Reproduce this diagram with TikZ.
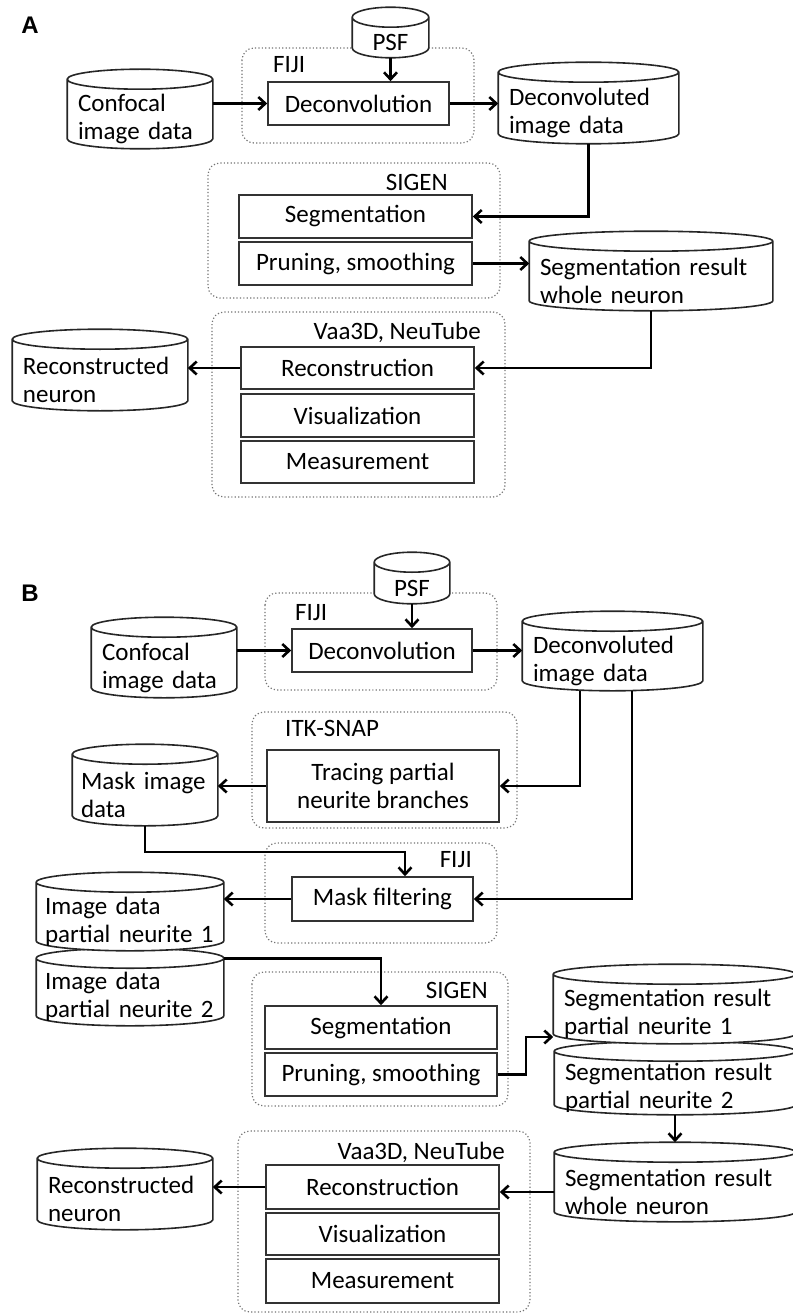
\documentclass[tikz,border=0pt]{standalone}
\usepackage{fontspec}
\setmainfont{Carlito}
\newfontfamily\panelfont{Liberation Sans}
\usetikzlibrary{arrows.meta,calc}

\tikzset{
  proc/.style={rectangle, draw=black!80, line width=1.6pt, fill=white,
    minimum width=233pt, minimum height=43pt, inner sep=0pt, align=center},
  store/.style={rectangle, inner xsep=10pt, inner ysep=0pt, align=left,
    execute at begin node={\hyphenpenalty=10000\exhyphenpenalty=10000},
    append after command={
      let \p1=(\tikzlastnode.north west), \p2=(\tikzlastnode.south east),
          \n1={(\x2-\x1)/2} in
      (\x1,\y1+10pt) -- (\x1,\y2+10pt)
        arc[start angle=180, end angle=360, x radius={\n1*1pt}, y radius=10pt]
        -- (\x2,\y1+10pt)
        arc[start angle=0, end angle=180, x radius={\n1*1pt}, y radius=10pt] -- cycle
      (\x1,\y1+10pt)
        arc[start angle=180, end angle=360, x radius={\n1*1pt}, y radius=10pt]}},
  cylline/.style={draw=black!85, line width=1.6pt, fill=white},
  grp/.style={draw=black!55, line width=1.2pt, dash pattern=on 1.2pt off 2.2pt,
    rounded corners=12pt},
  grplbl/.style={inner sep=0pt},
  line/.style={draw, line width=2.6pt, -{Straight Barb[length=7pt,width=13pt]}},
  panel/.style={font=\panelfont\bfseries\fontsize{24}{28}\selectfont, inner sep=0pt}
}

\begin{document}
\begin{tikzpicture}[x=1pt, y=-1pt, font=\fontsize{25}{28}\selectfont]
  \useasboundingbox (0,0) rectangle (792,1316);

  % A
  \node[panel] (labA) at (30,25) {A};
  \draw[grp] (242,48) rectangle (474,143);
  \draw[grp] (208,163) rectangle (500,298);
  \draw[grp] (212,312) rectangle (505,497);
  \node[grplbl, anchor=west] (fijiA) at (273,65) {FIJI};
  \node[grplbl, anchor=east] (sigenA) at (448,182) {SIGEN};
  \node[grplbl, anchor=east] (vaaA) at (481,332) {Vaa3D, NeuTube};

  \path[cylline] node[store, text width=124pt, minimum height=58pt] (confA) at (140,119) {Confocal\\image data};
  \path[cylline] node[store, align=center, text width=55pt, minimum height=29pt] (psfA) at (390.5,42.5) {PSF};
  \path[cylline] node[store, text width=159pt, minimum height=60pt] (deconvdA) at (588.5,113) {Deconvoluted\\image data};
  \path[cylline] node[store, text width=222pt, minimum height=58pt] (segwA) at (651,281) {Segmentation result\\whole neuron};
  \path[cylline] node[store, text width=154pt, minimum height=60pt] (reconA) at (100,380) {Reconstructed\\neuron};

  \node[proc, minimum width=181pt] (deconvA) at (358.5,103.5) {Deconvolution};
  \node[proc] (segA) at (355.5,216.5) {Segmentation};
  \node[proc] (pruneA) at (355.5,263.5) {Pruning, smoothing};
  \node[proc, minimum height=42pt] (reconsA) at (357.5,368) {Reconstruction};
  \node[proc] (visA) at (357.5,415.5) {Visualization};
  \node[proc, minimum height=42pt] (measA) at (357.5,462) {Measurement};

  \path[line] (confA.east |- deconvA.west) -- (deconvA.west);
  \path[line] (psfA.south) -- (psfA.south |- deconvA.north);
  \path[line] (deconvA.east) -- (deconvA.east -| deconvdA.west);
  \path[line] (deconvdA.south) |- (segA.east);
  \path[line] (pruneA.east) -- (pruneA.east -| segwA.west);
  \path[line] (segwA.south) |- (reconsA.east);
  \path[line] (reconsA.west) -- (reconsA.west -| reconA.east);

  % B
  \node[panel] (labB) at (30,593) {B};
  \draw[grp] (265,593) rectangle (497,690);
  \draw[grp] (252,712) rectangle (517,828);
  \draw[grp] (265,843) rectangle (497,943);
  \draw[grp] (252,972) rectangle (508,1106);
  \draw[grp] (238,1131) rectangle (530,1312);
  \node[grplbl, anchor=west] (fijiB) at (295,613) {FIJI};
  \node[grplbl, anchor=west] (itkB) at (285,728) {ITK-SNAP};
  \node[grplbl, anchor=east] (fijiBB) at (472,860) {FIJI};
  \node[grplbl, anchor=east] (sigenB) at (488,990) {SIGEN};
  \node[grplbl, anchor=east] (vaaB) at (505,1152) {Vaa3D, NeuTube};

  \path[cylline] node[store, text width=124pt, minimum height=59pt] (confB) at (164,667.5) {Confocal\\image data};
  \path[cylline] node[store, align=center, text width=54pt, minimum height=30pt] (psfB) at (412,588) {PSF};
  \path[cylline] node[store, text width=159pt, minimum height=58pt] (deconvdB) at (612.5,661) {Deconvoluted\\image data};
  \path[cylline] node[store, inner xsep=8pt, text width=128pt, minimum height=60pt] (maskB) at (145,795) {\mbox{Mask image}\\data};
  \path[cylline] node[store, inner xsep=8pt, text width=170pt, minimum height=56pt] (part2B) at (130,997) {Image data\\partial neurite 2};
  \path[cylline] node[store, inner xsep=8pt, text width=170pt, minimum height=57pt] (part1B) at (130,921.5) {Image data\\partial neurite 1};
  \path[cylline] node[store, text width=220pt, minimum height=52pt] (segp2B) at (675,1088) {Segmentation result\\partial neurite 2};
  \path[cylline] node[store, text width=221pt, minimum height=58pt] (segp1B) at (674.5,1014) {Segmentation result\\partial neurite 1};
  \path[cylline] node[store, text width=220pt, minimum height=58pt] (segwB) at (675,1192) {Segmentation result\\whole neuron};
  \path[cylline] node[store, text width=154pt, minimum height=60pt] (reconB) at (125,1199) {Reconstructed\\neuron};

  \node[proc, minimum width=180pt] (deconvB) at (382,650.5) {Deconvolution};
  \node[proc, minimum width=232pt, minimum height=72pt] (traceB) at (383,786) {Tracing partial\\neurite branches};
  \node[proc, minimum width=181pt, minimum height=44pt] (maskfB) at (382.5,899) {Mask filtering};
  \node[proc, minimum width=232pt] (segB) at (381,1027.5) {Segmentation};
  \node[proc, minimum width=232pt] (pruneB) at (381,1074.5) {Pruning, smoothing};
  \node[proc, minimum height=44pt] (reconsB) at (382.5,1187) {Reconstruction};
  \node[proc, minimum height=42pt] (visB) at (382.5,1234) {Visualization};
  \node[proc, minimum height=44pt] (measB) at (382.5,1281) {Measurement};

  \coordinate (maskturn) at (405,852);

  \path[line] (confB.east |- deconvB.west) -- (deconvB.west);
  \path[line] (psfB.south) -- (psfB.south |- deconvB.north);
  \path[line] (deconvB.east) -- (deconvB.east -| deconvdB.west);
  \path[line] ([xshift=-32.5pt]deconvdB.south) |- (traceB.east);
  \path[line] ([xshift=19.5pt]deconvdB.south) |- (maskfB.east);
  \path[line] (traceB.west) -- (traceB.west -| maskB.east);
  \path[line] (maskB.south) |- (maskturn) -- ([xshift=22.5pt]maskfB.north);
  \path[line] (maskfB.west) -- (maskfB.west -| part1B.east);
  \path[line] ([yshift=10pt]part2B.north east) -| (segB.north);
  \path[line] (pruneB.east) -- ++(28,0) |- ([yshift=-23pt]segp1B.west);
  \path[line] (segp2B.south) -- ([yshift=20pt]segwB.north);
  \path[line] (segwB.west) -- (segwB.west -| reconsB.east);
  \path[line] (reconsB.west) -- (reconsB.west -| reconB.east);
\end{tikzpicture}
\end{document}
